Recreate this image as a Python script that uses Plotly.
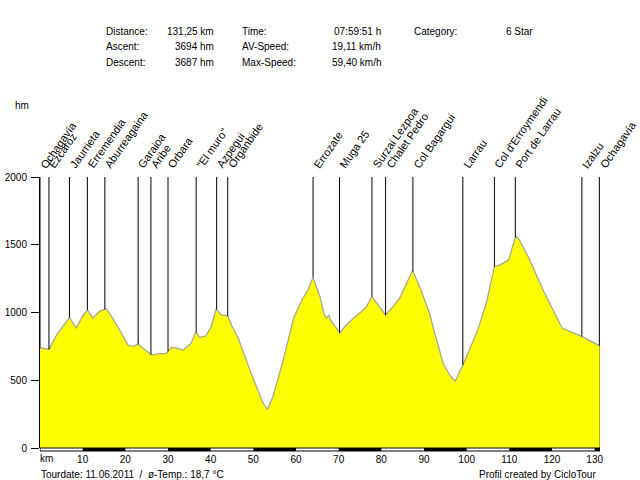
import numpy as np
import plotly.graph_objects as go

# ---------------- data ----------------
profile_km = [0.0, 2.1, 4.0, 5.5, 6.9, 8.5, 10.0, 11.1, 12.4, 14.0, 15.5, 17.0, 18.3, 19.5,
              20.6, 21.8, 22.9, 23.9, 25.0, 26.2, 27.6, 29.6, 30.8, 32.3, 33.5, 35.4, 36.5,
              37.4, 38.9, 40.1, 41.3, 42.5, 44.0, 45.0, 46.4, 49.2, 52.3, 53.3, 54.6, 56.2,
              57.0, 59.5, 61.5, 62.8, 64.0, 65.6, 66.5, 67.1, 67.7, 68.1, 70.3, 71.4, 73.8,
              75.3, 76.5, 77.8, 79.2, 81.0, 82.4, 84.3, 85.9, 87.3, 89.0, 91.3, 92.1, 94.5,
              96.0, 97.3, 99.3, 102.6, 104.6, 106.5, 107.7, 109.8, 111.5, 112.4, 114.8,
              117.9, 122.4, 127.1, 131.25]
profile_elev = [740, 728, 840, 905, 962, 885, 975, 1018, 960, 1010, 1028, 960, 895, 825,
                760, 748, 767, 743, 715, 686, 694, 699, 743, 736, 723, 772, 858,
                817, 827, 895, 1026, 982, 974, 900, 815, 576, 330, 285, 379, 555,
                649, 963, 1100, 1166, 1260, 1117, 1000, 957, 980, 945, 846, 895, 969,
                1006, 1043, 1117, 1055, 982, 1031, 1105, 1215, 1310, 1190, 994, 895, 625,
                539, 492, 625, 871, 1068, 1338, 1350, 1387, 1565, 1535, 1387,
                1166, 883, 822, 752]

station_names = ["Ochagavía", "Ezcaroz", "Jaurrieta", "Erremendia", "Aburreagaina",
                 "Garaioa", "Aribe", "Orbara", "\"El muro\"", "Azpegui", "Organbide",
                 "Errozate", "Muga 25", "Surzai Lezpoa", "Chalet Pedro", "Col Bagargui",
                 "Larrau", "Col d'Erroymendi", "Port de Larrau", "Izalzu", "Ochagavía"]
station_km = [0.0, 2.1, 6.9, 11.1, 15.2, 23.0, 26.0, 30.0, 36.6, 41.4, 44.0,
              64.0, 70.2, 77.8, 81.0, 87.4, 99.1, 106.5, 111.4, 127.0, 131.1]

x_tick_vals = [10, 20, 30, 40, 50, 60, 70, 80, 90, 100, 110, 120, 130]
y_tick_vals = [0, 500, 1000, 1500, 2000]

header_labels = [("Distance:", "131,25 km"), ("Ascent:", "3694 hm"), ("Descent:", "3687 hm")]
header_labels2 = [("Time:", "07:59:51 h"), ("AV-Speed:", "19,11 km/h"), ("Max-Speed:", "59,40 km/h")]
header_labels3 = [("Category:", "6 Star")]

tour_text = "Tourdate: 11.06.2011  /  ø-Temp.: 18,7 °C"
credit_text = "Profil created by CicloTour"

total_km = 131.25
y_max = 2000

# ---------------- layout geometry ----------------
W, H = 640, 480
L, R, T, B = 40, 40, 177, 32
PW, PH = W - L - R, H - T - B
FONT = "Liberation Sans, Arial, sans-serif"


def px(xp):
    return (xp - L) / PW


def py(yp):
    return (H - B - yp) / PH


fig = go.Figure()

fig.add_trace(go.Scatter(x=profile_km, y=profile_elev, mode="lines", fill="tozeroy",
                         fillcolor="#FFFF00", line=dict(color="#A8A890", width=1.3),
                         hoverinfo="skip", showlegend=False))

# right edge closing line
fig.add_trace(go.Scatter(x=[profile_km[-1], profile_km[-1]], y=[0, profile_elev[-1]],
                         mode="lines", line=dict(color="#4F6020", width=1),
                         hoverinfo="skip", showlegend=False))

# station marker lines
mx, my = [], []
for k in station_km:
    e = float(np.interp(k, profile_km, profile_elev))
    mx += [k, k, None]
    my += [y_max, e, None]
fig.add_trace(go.Scatter(x=mx, y=my, mode="lines", line=dict(color="black", width=1),
                         hoverinfo="skip", showlegend=False))

annotations = []
for name, k in zip(station_names, station_km):
    annotations.append(dict(x=k, y=1, xref="x", yref="paper", text=name, showarrow=False,
                            textangle=-55, xanchor="left", yanchor="bottom",
                            xshift=-5, yshift=4,
                            font=dict(family=FONT, size=11, color="black")))

# header
cols = [(header_labels, 104, 216), (header_labels2, 240, 383), (header_labels3, 412, 535)]
rows_y = [31, 46.5, 62]
for items, xl, xr in cols:
    for (lab, val), yy in zip(items, rows_y):
        annotations.append(dict(x=px(xl), y=py(yy), xref="paper", yref="paper", text=lab,
                                showarrow=False, xanchor="left", yanchor="middle",
                                font=dict(family=FONT, size=10, color="black")))
        annotations.append(dict(x=px(xr), y=py(yy), xref="paper", yref="paper", text=val,
                                showarrow=False, xanchor="right", yanchor="middle",
                                font=dict(family=FONT, size=10, color="black")))

annotations.append(dict(x=px(13), y=py(105), xref="paper", yref="paper", text="hm",
                        showarrow=False, xanchor="left", yanchor="middle",
                        font=dict(family=FONT, size=10, color="black")))
annotations.append(dict(x=px(38), y=py(459), xref="paper", yref="paper", text="km",
                        showarrow=False, xanchor="left", yanchor="middle",
                        font=dict(family=FONT, size=10, color="black")))
annotations.append(dict(x=px(39), y=py(474), xref="paper", yref="paper", text=tour_text,
                        showarrow=False, xanchor="left", yanchor="middle",
                        font=dict(family=FONT, size=10, color="black")))
annotations.append(dict(x=px(598), y=py(474), xref="paper", yref="paper", text=credit_text,
                        showarrow=False, xanchor="right", yanchor="middle",
                        font=dict(family=FONT, size=10, color="black")))

# bottom scale bar
bar_h = 3 / PH
shapes = [dict(type="rect", xref="x", yref="paper", x0=0, x1=total_km, y0=-bar_h, y1=0,
               fillcolor="white", line=dict(color="black", width=1), layer="above")]
d = 10
while d < total_km:
    shapes.append(dict(type="rect", xref="x", yref="paper", x0=d, x1=min(d + 10, total_km),
                       y0=-bar_h, y1=0, fillcolor="black", line=dict(width=0), layer="above"))
    d += 20

fig.update_layout(
    width=W, height=H, margin=dict(l=L, r=R, t=T, b=B, pad=0, autoexpand=False),
    paper_bgcolor="white", plot_bgcolor="white",
    showlegend=False, annotations=annotations, shapes=shapes,
    font=dict(family=FONT, size=10, color="black"),
    xaxis=dict(range=[0, total_km], tickvals=x_tick_vals, ticks="outside", ticklen=2,
               tickcolor="rgba(0,0,0,0)", showline=False, showgrid=False, zeroline=False,
               automargin=False,
               tickfont=dict(family=FONT, size=10, color="black"), fixedrange=True),
    yaxis=dict(range=[0, y_max], tickvals=y_tick_vals, ticks="outside", ticklen=8,
               tickcolor="black", showline=True, linecolor="black", linewidth=1,
               showgrid=False, zeroline=False, ticklabelstandoff=2, automargin=False,
               tickfont=dict(family=FONT, size=10, color="black"), fixedrange=True),
)

fig.write_html("out.html")
